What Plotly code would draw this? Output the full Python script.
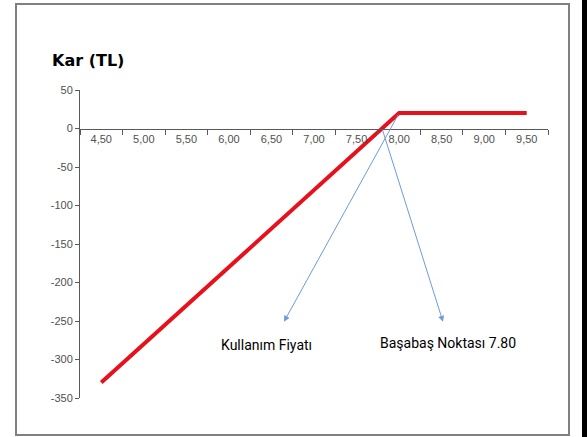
import plotly.graph_objects as go

# Data
prices = [4.50, 5.00, 5.50, 6.00, 6.50, 7.00, 7.50, 8.00, 8.50, 9.00, 9.50]
profits = [-330, -280, -230, -180, -130, -80, -30, 20, 20, 20, 20]
x_tick_vals = [4.50, 5.00, 5.50, 6.00, 6.50, 7.00, 7.50, 8.00, 8.50, 9.00, 9.50]
x_tick_text = ["4,50", "5,00", "5,50", "6,00", "6,50", "7,00", "7,50", "8,00", "8,50", "9,00", "9,50"]
x_boundaries = [4.25, 4.75, 5.25, 5.75, 6.25, 6.75, 7.25, 7.75, 8.25, 8.75, 9.25, 9.75]
y_tick_vals = [50, 0, -50, -100, -150, -200, -250, -300, -350]
y_tick_text = ["50", "0", "-50", "-100", "-150", "-200", "-250", "-300", "-350"]
strike_price = 8.00
strike_profit = 20
breakeven = 7.80
title_text = "Kar (TL)"
label_strike = "Kullanım Fiyatı"
label_breakeven = "Başabaş Noktası 7.80"

W, H = 587, 437
L, R, T, B = 80, 39, 90, 39
pw, ph = W - L - R, H - T - B


def px_x(p):
    return (p - L) / pw


def px_y(p):
    return (H - B - p) / ph


fig = go.Figure()
fig.add_trace(go.Scatter(
    x=prices, y=profits, mode="lines",
    line=dict(color="#e8101a", width=4),
    hoverinfo="skip", showlegend=False,
))

tick_font = dict(family="Liberation Sans, Arial, sans-serif", size=11, color="#505050")

fig.update_layout(
    width=W, height=H,
    margin=dict(l=L, r=R, t=T, b=B),
    paper_bgcolor="white", plot_bgcolor="white",
    showlegend=False,
    title=dict(
        text=f"<b>{title_text}</b>",
        font=dict(family="DejaVu Sans, Verdana, sans-serif", size=16, color="#000000"),
        xref="container", yref="container",
        x=52 / W, xanchor="left", y=1 - 60 / H, yanchor="middle",
    ),
    xaxis=dict(
        range=[4.25, 9.75],
        tickmode="array", tickvals=x_tick_vals, ticktext=x_tick_text,
        ticks="", showgrid=False, zeroline=False,
        showline=True, linecolor="#595959", linewidth=1,
        anchor="free", position=0.875,
        tickfont=tick_font,
        minor=dict(tickmode="array", tickvals=x_boundaries, ticks="outside",
                   ticklen=5, tickcolor="#595959", tickwidth=1, showgrid=False),
    ),
    yaxis=dict(
        range=[-350, 50],
        tickmode="array", tickvals=y_tick_vals, ticktext=y_tick_text,
        ticks="outside", ticklen=4, tickcolor="#595959",
        showgrid=False, zeroline=False,
        showline=True, linecolor="#595959", linewidth=1,
        tickfont=tick_font,
    ),
)

arrow_color = "#6f9bd6"
# Arrow from strike point to strike label
fig.add_annotation(
    x=6.647, y=-251, xref="x", yref="y",
    ax=strike_price, ay=strike_profit, axref="x", ayref="y",
    text="", showarrow=True, arrowhead=2, arrowsize=1.2, arrowwidth=1,
    arrowcolor=arrow_color,
)
# Arrow from breakeven point to breakeven label
fig.add_annotation(
    x=8.516, y=-251, xref="x", yref="y",
    ax=breakeven, ay=0, axref="x", ayref="y",
    text="", showarrow=True, arrowhead=2, arrowsize=1.2, arrowwidth=1,
    arrowcolor=arrow_color,
)

label_font = dict(family="Roboto, sans-serif", size=14, color="#000000")
fig.add_annotation(x=6.436, y=-281, xref="x", yref="y", text=label_strike,
                   showarrow=False, font=label_font, xanchor="center", yanchor="middle")
fig.add_annotation(x=8.574, y=-278.6, xref="x", yref="y", text=label_breakeven,
                   showarrow=False, font=label_font, xanchor="center", yanchor="middle")

# Outer border
fig.add_shape(type="rect", xref="paper", yref="paper",
              x0=px_x(16), x1=px_x(569), y0=px_y(435), y1=px_y(4),
              line=dict(color="#808080", width=2), fillcolor="rgba(0,0,0,0)", layer="above")
# Dark strip at right edge
fig.add_shape(type="rect", xref="paper", yref="paper",
              x0=px_x(582), x1=px_x(592), y0=px_y(440), y1=px_y(-3),
              line=dict(width=0), fillcolor="#000000", layer="above")

fig.write_html(
    "out.html",
    config={"displayModeBar": False},
    post_script="document.body.style.margin='0';document.body.style.overflow='hidden';",
)
